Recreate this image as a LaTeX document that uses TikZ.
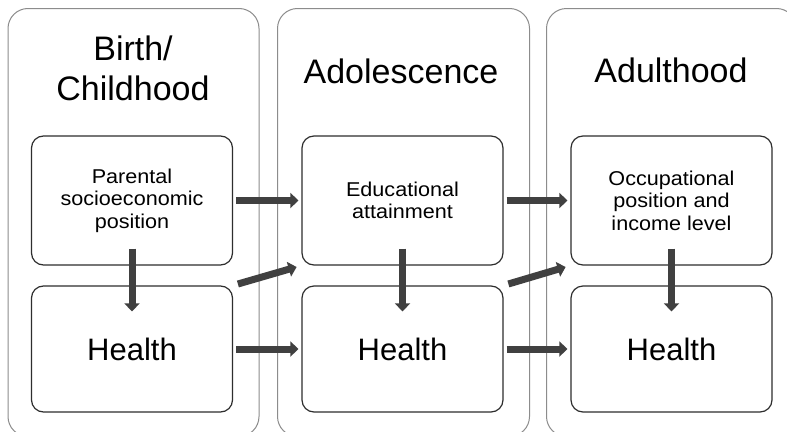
\documentclass[tikz,border=0pt]{standalone}
\usepackage{fontspec}
\setmainfont{Liberation Sans}
\newfontfamily\smallf[FakeStretch=1.08]{Liberation Sans}
\usetikzlibrary{arrows.meta}
\definecolor{panelgray}{HTML}{8C8C8C}
\definecolor{boxline}{HTML}{2E2E2E}
\definecolor{arrowgray}{HTML}{404040}
\begin{document}
\begin{tikzpicture}[x=1pt,y=-1pt,
  panel/.style={draw=panelgray, line width=1pt, rounded corners=20pt, anchor=north west, inner sep=0pt, minimum height=428pt},
  stagebox/.style={draw=boxline, fill=white, line width=1.2pt, rounded corners=12pt, minimum width=201pt, inner sep=2pt, align=center},
  small/.style={font=\smallf\fontsize{20}{22.5}\selectfont},
  big/.style={font=\fontsize{31}{37}\selectfont},
  title/.style={font=\fontsize{34}{40}\selectfont, align=center, anchor=base, inner sep=0pt},
  arr/.style={draw=arrowgray, line width=7pt, -{Triangle[length=8pt,width=15pt]}}]
\useasboundingbox (0,0) rectangle (787,431);
\fill[white] (0,0) rectangle (787,431);
\begin{scope}
\clip (0,0) rectangle (787,431);
\node[panel, minimum width=251pt] (pan1) at (7.5,8) {};
\node[panel, minimum width=252pt] (pan2) at (277,8) {};
\node[panel, minimum width=250pt] (pan3) at (546,8) {};
\end{scope}
\node[title] (t1) at (133,100) {Birth/\\Childhood};
\node[title] (t2) at (401,83) {Adolescence};
\node[title] (t3) at (671,82) {Adulthood};
\node[stagebox, small, minimum height=129pt] (p1) at (132,200.5) {Parental\\socioeconomic\\position};
\node[stagebox, big, minimum height=126pt] (h1) at (132,349) {Health};
\node[stagebox, small, minimum height=129pt] (e2) at (402.5,200.5) {Educational\\attainment};
\node[stagebox, big, minimum height=126pt] (h2) at (402.5,349) {Health};
\node[stagebox, small, minimum height=129pt] (o3) at (671.5,200.5) {Occupational\\position and\\income level};
\node[stagebox, big, minimum height=126pt] (h3) at (671.5,349) {Health};
% arrows
\draw[arr, shorten <=3pt, shorten >=3pt] (p1.east) -- (e2.west);
\draw[arr, shorten <=3pt, shorten >=3pt] (h1.east) -- (h2.west);
\draw[arr, shorten <=5pt, shorten >=5pt] (h1.north east) -- (e2.south west);
\draw[arr, shorten <=3pt, shorten >=3pt] (e2.east) -- (o3.west);
\draw[arr, shorten <=3pt, shorten >=3pt] (h2.east) -- (h3.west);
\draw[arr, shorten <=5pt, shorten >=5pt] (h2.north east) -- (o3.south west);
\draw[arr, shorten <=-17pt, shorten >=-26pt] (p1.south) -- (h1.north);
\draw[arr, shorten <=-17pt, shorten >=-26pt] (e2.south) -- (h2.north);
\draw[arr, shorten <=-17pt, shorten >=-26pt] (o3.south) -- (h3.north);
\end{tikzpicture}
\end{document}
